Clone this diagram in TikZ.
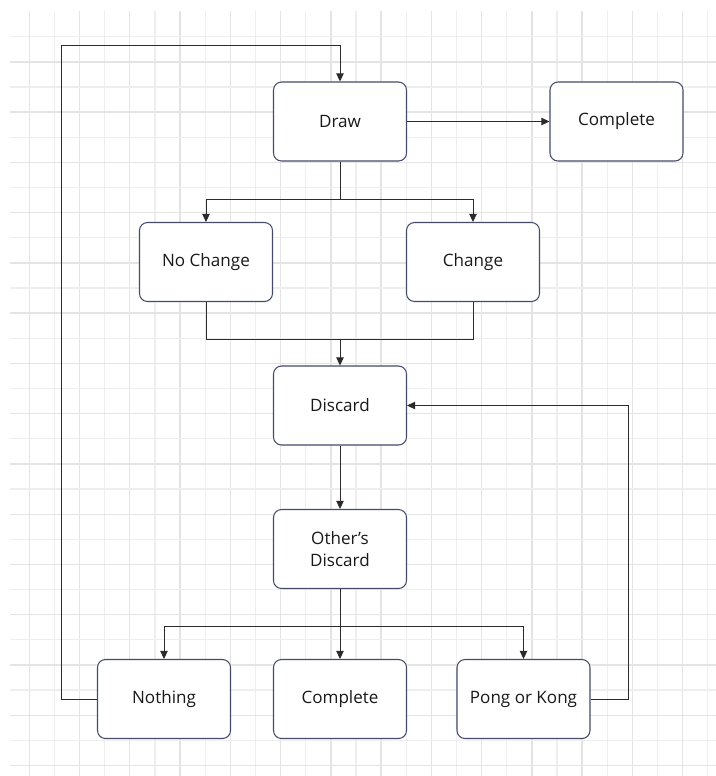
\documentclass[tikz,border=0pt]{standalone}
\usepackage{fontspec}
\setmainfont{Open Sans}
\usetikzlibrary{arrows.meta}

\definecolor{gridminor}{HTML}{EEEEEE}
\definecolor{gridmajor}{HTML}{E4E4E4}
\definecolor{boxline}{HTML}{464B6A}
\definecolor{wirecol}{HTML}{2B2B2B}

\begin{document}
\begin{tikzpicture}[x=0.75pt,y=-0.75pt]
    \tikzstyle{every node}+=[font=\fontsize{12.8}{16}\selectfont, text=black!90]
    \tikzstyle{state}=[draw=boxline, line width=0.8pt, fill=white, rounded corners=6pt,
        minimum width=99.75pt, minimum height=59.25pt, align=center]
    \tikzstyle{link}=[draw=wirecol, line width=0.75pt]
    \tikzstyle{arrowlink}=[link, -{Triangle[length=6pt,width=5.5pt]}]
    \useasboundingbox (0,0) rectangle (716,776);
    \fill [white] (0,0) rectangle (716,776);
    % background grid
    \foreach \k in {0,...,27} {
        \pgfmathsetmacro\gx{29.3+25.13*\k}
        \ifodd\k \def\gc{gridminor}\else \def\gc{gridmajor}\fi
        \draw [\gc, line width=1pt] (\gx,11) -- (\gx,776);
    }
    \foreach \k in {0,...,29} {
        \pgfmathsetmacro\gy{36.7+25.13*\k}
        \ifodd\k \def\gc{gridmajor}\else \def\gc{gridminor}\fi
        \draw [\gc, line width=1pt] (10,\gy) -- (716,\gy);
    }
    % states
    \node [state] (draw) at (340,121.5) {Draw};
    \node [state] (done1) at (616.5,121.5) {Complete};
    \node [state] (nochange) at (206,262) {No Change};
    \node [state] (change) at (473,262) {Change};
    \node [state] (discard) at (340,405.5) {Discard};
    \node [state] (others) at (340,549) {Other's\\Discard};
    \node [state] (nothing) at (164,699) {Nothing};
    \node [state] (done2) at (340,699) {Complete};
    \node [state] (pong) at (523.5,699) {Pong or Kong};
    % corners of the connectors
    \coordinate (loopcorner) at (61,45);
    \coordinate (split1) at (340,199.5);
    \coordinate (join1) at (340,339);
    \coordinate (backcorner) at (628,405.5);
    \coordinate (split2) at (340,626);
    % connectors
    \draw [arrowlink] (draw.east) -- (done1.west);
    \draw [link] (draw.south) -- (split1);
    \draw [arrowlink] (split1) -| (nochange.north);
    \draw [arrowlink] (split1) -| (change.north);
    \draw [link] (nochange.south) |- (join1);
    \draw [link] (change.south) |- (join1);
    \draw [arrowlink] (join1) -- (discard.north);
    \draw [arrowlink] (discard.south) -- (others.north);
    \draw [link] (others.south) -- (split2);
    \draw [arrowlink] (split2) -| (nothing.north);
    \draw [arrowlink] (split2) -- (done2.north);
    \draw [arrowlink] (split2) -| (pong.north);
    \draw [arrowlink] (nothing.west) -| (loopcorner) -| (draw.north);
    \draw [arrowlink] (pong.east) -| (backcorner) -- (discard.east);
\end{tikzpicture}
\end{document}
